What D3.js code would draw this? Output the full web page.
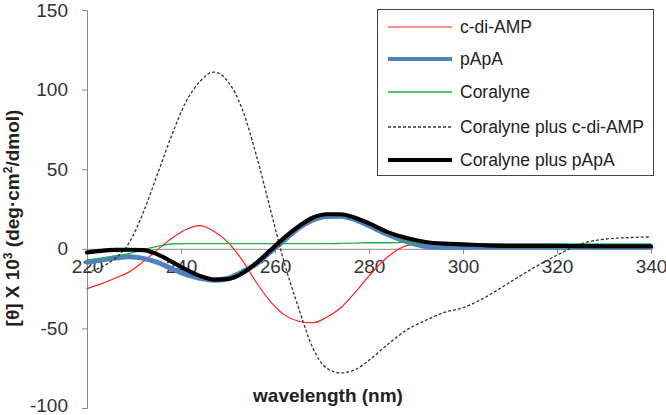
<!DOCTYPE html>
<html>
<head>
<meta charset="utf-8">
<script src="https://cdn.jsdelivr.net/npm/d3@7"></script>
<style>
  html, body { margin: 0; padding: 0; background: #fff; }
  svg { display: block; font-family: "Liberation Sans", Arial, sans-serif; }
</style>
</head>
<body>
<svg id="chart" width="666" height="415"></svg>
<script>
// ---- data ----
const wavelengths = [220,223,226,229,232,235,238,241,244,247,250,253,256,259,262,265,268,271,274,277,280,284,288,292,296,300,305,310,315,320,325,330,335,340];
const cdiAMP = [-25,-22,-18.5,-14.5,-8,-0.5,6.5,12,14.5,11,4,-7,-21,-33,-41.5,-45.5,-46.5,-43,-37,-27.5,-17,-5,2,3.5,2.5,2,2,2,2,2,2,2,2,2];
const pApA = [-8.5,-7,-5.8,-5,-6,-8.5,-12.5,-16,-18.5,-19.8,-18.5,-14.5,-9.5,-2,5.5,13,18,20.3,20.5,18.3,14.5,9,4.5,1.5,0.8,0.8,1,1,1,1,1,1,1,1];
const coralyne = [-7,-6,-4.5,-3,-0.5,1.5,3,3.2,3.2,3.2,3.2,3.2,3.2,3.2,3.3,3.3,3.2,3.2,3.4,3.6,3.8,3.8,4,3.5,3,3,3,3,3,3,3,3,3,3];
const coralynePlusCdiAMP = [-15,-11.5,-6,4,23,47,71,92,105,111,105,88,59,25,-9,-37,-62,-75,-78,-76,-70,-60,-51,-45,-40,-37,-30,-21,-12,-4,3,6,7,7.5];
const coralynePlusPApA = [-2.3,-1.3,-0.7,-0.6,-0.8,-3.5,-8,-13,-17,-19.3,-19,-15.5,-9,-1,7,14,19.5,21.7,21.7,19.5,16,10.5,6.8,4.3,3.2,2.8,2.2,1.9,1.9,1.8,1.7,1.6,1.6,1.6];
const seriesNames = ["c-di-AMP","pApA","Coralyne","Coralyne plus c-di-AMP","Coralyne plus pApA"];
const xTicks = [220,240,260,280,300,320,340];
const yTicks = [-100,-50,0,50,100,150];

// ---- styles ----
const seriesStyles = [
  {color:"#ff2020", width:1.2, dash:null},
  {color:"#4f81bd", width:5, dash:null},
  {color:"#1fae4f", width:1.3, dash:null},
  {color:"#333333", width:1.3, dash:"3,2"},
  {color:"#000000", width:4.2, dash:null}
];
const seriesValues = [cdiAMP, pApA, coralyne, coralynePlusCdiAMP, coralynePlusPApA];

const svg = d3.select("#chart");
const x = d3.scaleLinear().domain([220,340]).range([87,651]);
const y = d3.scaleLinear().domain([-100,150]).range([408,10]);
const axisColor = "#8a8a8a";
const fmt = d => String(d);

// y axis
const yAxis = svg.append("g").attr("transform",`translate(${x(220)},0)`)
  .call(d3.axisLeft(y).tickValues(yTicks).tickSize(5).tickPadding(14).tickFormat(fmt));
yAxis.select(".domain").attr("stroke",axisColor);
yAxis.selectAll(".tick line").attr("stroke",axisColor);
yAxis.selectAll("text").attr("font-size",19).attr("fill","#333").attr("font-family","Liberation Sans, Arial, sans-serif");
yAxis.selectAll(".tick").filter(d => d === -100).select("text").attr("dy","0.2em");

// x axis at y = 0
const xAxis = svg.append("g").attr("transform",`translate(0,${y(0)})`)
  .call(d3.axisBottom(x).tickValues(xTicks).tickSize(5).tickSizeOuter(0).tickPadding(6).tickFormat(fmt));
xAxis.select(".domain").attr("stroke",axisColor);
xAxis.selectAll(".tick line").attr("stroke",axisColor);
xAxis.selectAll("text").attr("font-size",19).attr("fill","#333").attr("font-family","Liberation Sans, Arial, sans-serif");

// lines
const line = d3.line().curve(d3.curveMonotoneX);
seriesValues.forEach((vals,i)=>{
  const s = seriesStyles[i];
  svg.append("path")
    .datum(wavelengths.map((w,j)=>[x(w), y(vals[j])]))
    .attr("d", line)
    .attr("fill","none")
    .attr("stroke", s.color)
    .attr("stroke-width", s.width)
    .attr("stroke-linejoin","round")
    .attr("stroke-linecap", s.dash ? "butt" : "round")
    .attr("stroke-dasharray", s.dash);
});

// legend
const lg = svg.append("g");
lg.append("rect").attr("x",377.5).attr("y",9.5).attr("width",276).attr("height",166)
  .attr("fill","#fff").attr("stroke","#444").attr("stroke-width",1);
const legendY = [27, 59, 92, 127, 160];
seriesNames.forEach((name,i)=>{
  const s = seriesStyles[i];
  lg.append("line").attr("x1",388).attr("x2",452).attr("y1",legendY[i]).attr("y2",legendY[i])
    .attr("stroke",s.color).attr("stroke-width", i===1||i===4 ? 4 : s.width)
    .attr("stroke-dasharray", s.dash);
  lg.append("text").attr("x",460).attr("y",legendY[i]+6).attr("font-size",17.5).attr("fill","#222")
    .text(name);
});

// axis titles
svg.append("text").attr("x",328).attr("y",402).attr("text-anchor","middle")
  .attr("font-size",19).attr("font-weight","bold").attr("fill","#222").text("wavelength (nm)");
const yt = svg.append("text").attr("transform","translate(19,218) rotate(-90)")
  .attr("text-anchor","middle").attr("font-size",19).attr("font-weight","bold").attr("fill","#222");
yt.append("tspan").text("[θ] X 10");
yt.append("tspan").attr("font-size",12).attr("dy",-7).text("3");
yt.append("tspan").attr("dy",7).text(" (deg·cm");
yt.append("tspan").attr("font-size",12).attr("dy",-7).text("2");
yt.append("tspan").attr("dy",7).text("/dmol)");
</script>
</body>
</html>
